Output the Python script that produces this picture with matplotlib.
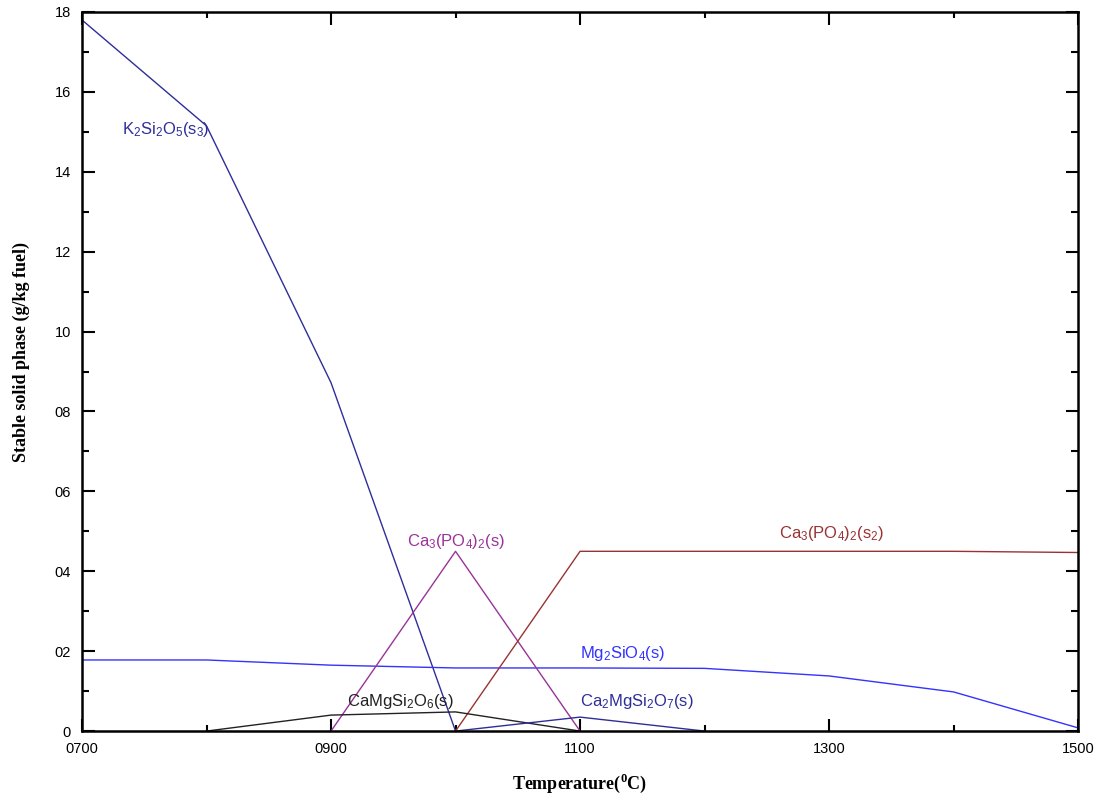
import numpy as np
import matplotlib
matplotlib.use("Agg")
import matplotlib.pyplot as plt
from matplotlib.ticker import MultipleLocator, FixedLocator

plt.rcParams['font.family'] = ['Liberation Sans', 'DejaVu Sans']
plt.rcParams['mathtext.fontset'] = 'custom'
plt.rcParams['mathtext.rm'] = 'Liberation Sans'
plt.rcParams['mathtext.it'] = 'Liberation Sans:italic'
plt.rcParams['mathtext.bf'] = 'Liberation Serif:bold'

# data (T in degC, g/kg fuel)
t_k2si2o5 = [700, 800, 900, 1000]
k2si2o5 = [17.8, 15.15, 8.72, 0.0]

t_mg2sio4 = [700, 800, 900, 1000, 1100, 1200, 1300, 1400, 1500]
mg2sio4 = [1.78, 1.78, 1.65, 1.58, 1.58, 1.57, 1.38, 0.98, 0.08]

t_ca3po4 = [900, 1000, 1100]
ca3po4 = [0.0, 4.5, 0.0]

t_ca3po4_s2 = [1000, 1100, 1400, 1500]
ca3po4_s2 = [0.0, 4.5, 4.5, 4.47]

t_camgsi2o6 = [800, 900, 1000, 1100]
camgsi2o6 = [0.0, 0.4, 0.48, 0.0]

t_ca2mgsi2o7 = [1000, 1100, 1200]
ca2mgsi2o7 = [0.0, 0.35, 0.0]

x_ticks = [700, 900, 1100, 1300, 1500]
x_labels = ["0700", "0900", "1100", "1300", "1500"]
y_ticks = [0, 2, 4, 6, 8, 10, 12, 14, 16, 18]
y_labels = ["0", "02", "04", "06", "08", "10", "12", "14", "16", "18"]

fig = plt.figure(figsize=(10.99, 7.99), dpi=100)
ax = fig.add_axes([0.0746, 0.085, 0.9064, 0.9])

ax.plot(t_k2si2o5, k2si2o5, color='#2e2e99', lw=1.0)
ax.plot(t_mg2sio4, mg2sio4, color='#3333ff', lw=1.0)
ax.plot(t_ca3po4, ca3po4, color='#993399', lw=1.0)
ax.plot(t_ca3po4_s2, ca3po4_s2, color='#993333', lw=1.0)
ax.plot(t_camgsi2o6, camgsi2o6, color='#222222', lw=1.0)
ax.plot(t_ca2mgsi2o7, ca2mgsi2o7, color='#2e2e99', lw=1.0)

fs = 12
ax.text(732, 15.05, r'K$_2$Si$_2$O$_5$(s$_3$)', color='#2e2e99', fontsize=fs, va='center')
ax.text(1000, 4.75, r'Ca$_3$(PO$_4$)$_2$(s)', color='#993399', fontsize=fs, ha='center', va='center')
ax.text(1260, 4.95, r'Ca$_3$(PO$_4$)$_2$(s$_2$)', color='#993333', fontsize=fs, va='center')
ax.text(1100, 1.95, r'Mg$_2$SiO$_4$(s)', color='#3333ff', fontsize=fs, va='center')
ax.text(913, 0.75, r'CaMgSi$_2$O$_6$(s)', color='#222222', fontsize=fs, va='center')
ax.text(1100, 0.75, r'Ca$_2$MgSi$_2$O$_7$(s)', color='#2e2e99', fontsize=fs, va='center')

ax.set_xlim(700, 1500)
ax.set_ylim(0, 18)
ax.xaxis.set_major_locator(FixedLocator(x_ticks))
ax.set_xticklabels(x_labels)
ax.xaxis.set_minor_locator(MultipleLocator(100))
ax.set_yticks(y_ticks)
ax.set_yticklabels(y_labels)
ax.yaxis.set_minor_locator(MultipleLocator(1))

ax.tick_params(which='both', direction='in', top=True, right=True, width=1.5, labelsize=10.5, pad=8)
ax.tick_params(which='major', length=9)
ax.tick_params(which='minor', length=5)
ax.tick_params(axis='x', which='minor', length=4)
for s in ax.spines.values():
    s.set_linewidth(1.8)

ax.set_xlabel(r'Temperature($^{\mathbf{0}}$C)', fontsize=13, fontweight='bold',
              family='Liberation Serif', labelpad=11)
ax.set_ylabel('Stable solid phase (g/kg fuel)', fontsize=13, fontweight='bold',
              family='Liberation Serif')
ax.yaxis.set_label_coords(-0.052, 0.527)

fig.savefig('out.png', dpi=100)
